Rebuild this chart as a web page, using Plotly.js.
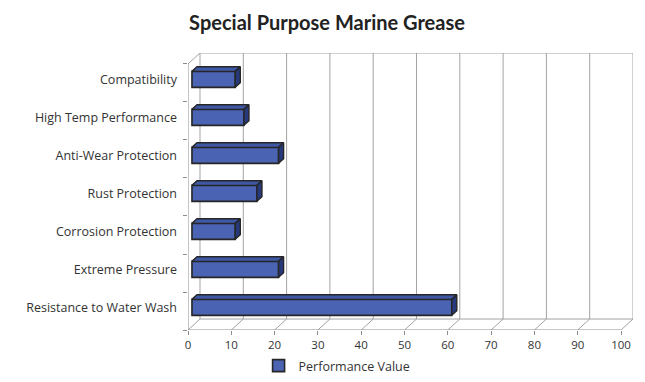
<!DOCTYPE html>
<html>
<head>
<meta charset="utf-8">
<script src="https://cdn.plot.ly/plotly-3.0.1.min.js"></script>
<style>html,body{margin:0;padding:0;background:#fff;}#chart{width:645px;height:382px;}</style>
</head>
<body>
<div id="chart"></div>
<script>
// ---- data (top to bottom as shown) ----
const categories = ["Compatibility", "High Temp Performance", "Anti-Wear Protection", "Rust Protection", "Corrosion Protection", "Extreme Pressure", "Resistance to Water Wash"];
const values = [10, 12, 20, 15, 10, 20, 60];
const seriesName = "Performance Value";
const xTicks = [0, 10, 20, 30, 40, 50, 60, 70, 80, 90, 100];
const chartTitle = "Special Purpose Marine Grease";

// ---- 3D look parameters ----
const DX = 2.77, DY = 0.289;      // depth offset of back wall (axis units)
const F1 = 0.33, F2 = 0.75;       // bar front / back depth fractions
const H = 0.42;                   // bar thickness (category units)
const n = categories.length;
const yPos = categories.map((c, i) => n - 1 - i);
const xMax = xTicks[xTicks.length - 1];
const yLo = -0.5, yHi = n - 0.5;

const b0 = DX * F1, yOff = DY * F1;
const ddx = DX * (F2 - F1), ddy = DY * (F2 - F1);
const barY = yPos.map(y => y + yOff);

// faces
const topX = [], topY = [], sideX = [], sideY = [];
values.forEach((v, i) => {
  const yc = barY[i];
  const t = yc + H / 2, b = yc - H / 2;
  topX.push(b0, b0 + v, b0 + v + ddx, b0 + ddx, b0, null);
  topY.push(t, t, t + ddy, t + ddy, t, null);
  sideX.push(b0 + v, b0 + v + ddx, b0 + v + ddx, b0 + v, b0 + v, null);
  sideY.push(b, b + ddy, t + ddy, t, b, null);
});

const traces = [
  {
    type: "bar", orientation: "h", name: seriesName,
    y: barY, x: values, base: values.map(() => b0), width: H,
    marker: {color: "#4a63b3", line: {color: "#262626", width: 1.6}},
    hoverinfo: "x+name"
  },
  {
    type: "scatter", mode: "lines", x: topX, y: topY, fill: "toself",
    fillcolor: "#3f58a6", line: {color: "#262626", width: 1.4}, showlegend: false, hoverinfo: "skip"
  },
  {
    type: "scatter", mode: "lines", x: sideX, y: sideY, fill: "toself",
    fillcolor: "#27397a", line: {color: "#262626", width: 1.4}, showlegend: false, hoverinfo: "skip"
  }
];

// frame shapes
const gc = "#a3a3a3";
const shapes = [];
const ln = (x0, y0, x1, y1, col, w) => shapes.push({type: "line", xref: "x", yref: "y", x0, y0, x1, y1, layer: "below", line: {color: col || gc, width: w || 1}});
xTicks.forEach(v => {
  ln(v + DX, yLo + DY, v + DX, yHi + DY);       // back wall gridline
  ln(v, yLo, v + DX, yLo + DY);                 // floor diagonal
});
ln(DX, yHi + DY, xMax + DX, yHi + DY);           // back top edge
ln(DX, yLo + DY, xMax + DX, yLo + DY);           // back floor edge
ln(0, yLo, xMax, yLo, "#8c8c8c");               // front floor edge
ln(0, yLo, 0, yHi, "#8c8c8c");                  // front left edge
ln(0, yHi, DX, yHi + DY);                       // top-left diagonal

const boundaries = [];
for (let k = 0; k <= n; k++) boundaries.push(yLo + k);

const layout = {
  width: 645, height: 382,
  margin: {l: 188, r: 12, t: 53, b: 52, autoexpand: false},
  paper_bgcolor: "#fff", plot_bgcolor: "rgba(0,0,0,0)",
  font: {family: "Open Sans, sans-serif", color: "#333"},
  title: {text: chartTitle, x: 0.507, xanchor: "center", y: 0.94, yanchor: "middle",
          font: {family: "Lato, sans-serif", size: 20, color: "#222", weight: "bold"}},
  showlegend: true,
  legend: {orientation: "h", x: 0.335, xanchor: "center", y: -0.13, yanchor: "middle",
           font: {size: 12.5, color: "#333"}, bgcolor: "rgba(0,0,0,0)"},
  xaxis: {
    range: [0, xMax + DX], tickmode: "array", tickvals: xTicks, ticktext: xTicks.map(String),
    ticks: "outside", ticklen: 4, tickcolor: "#8c8c8c", showgrid: false, zeroline: false, showline: false,
    tickfont: {size: 11.5, color: "#333"}, fixedrange: true, automargin: false
  },
  yaxis: {
    range: [yLo, yHi + DY], tickmode: "array", tickvals: barY, ticktext: categories,
    ticks: "", ticklabelstandoff: 10, showgrid: false, zeroline: false, showline: false,
    tickfont: {size: 12.5, color: "#333"}, fixedrange: true, automargin: false,
    minor: {tickmode: "array", tickvals: boundaries, ticks: "outside", ticklen: 4, tickcolor: "#8c8c8c", showgrid: false}
  },
  shapes: shapes,
  bargap: 0
};

Plotly.newPlot("chart", traces, layout, {displayModeBar: false, staticPlot: true});
</script>
</body>
</html>
